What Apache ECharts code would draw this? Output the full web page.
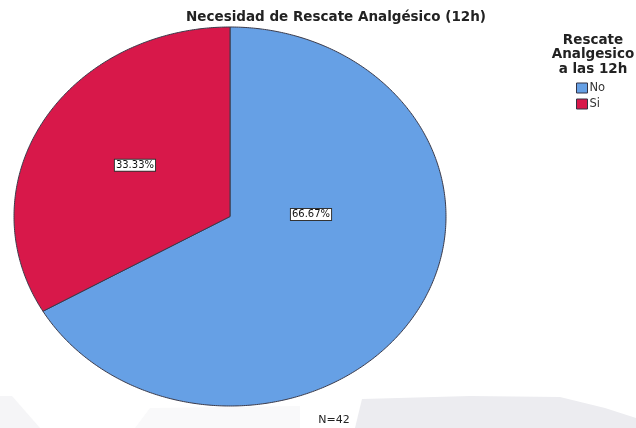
<!DOCTYPE html>
<html>
<head>
<meta charset="utf-8">
<script src="https://cdn.jsdelivr.net/npm/echarts@6/dist/echarts.min.js"></script>
<style>
  html, body { margin: 0; padding: 0; background: #ffffff; }
  #chart { width: 636px; height: 428px; }
</style>
</head>
<body>
<div id="chart"></div>
<script>
// Categories and counts (N = 42)
const categories = ['No', 'Si'];
const counts = [28, 14];
const sliceColors = ['#66a0e5', '#d8184a'];
const chartTitle = 'Necesidad de Rescate Analgésico (12h)';
const legendTitle = 'Rescate\nAnalgesico\na las 12h';

// Ellipse geometry of the pie (pixels)
const pieCx = 230, pieCy = 216.5, pieRx = 216, pieRy = 189.5;
// Where each percentage box sits, as a fraction of the radii from the centre
const labelSpots = [[0.375, -0.01], [-0.44, -0.27]];

const fontFace = '"DejaVu Sans", Verdana, sans-serif';

const total = counts.reduce((a, b) => a + b, 0);
const starts = [];
let acc = 0;
counts.forEach(v => { starts.push(acc); acc += v; });

const chart = echarts.init(document.getElementById('chart'), null, { renderer: 'canvas' });

function renderSlice(i, api) {
  const v = api.value(0);
  const a0 = -Math.PI / 2 + 2 * Math.PI * starts[i] / total;
  const a1 = a0 + 2 * Math.PI * v / total;
  const steps = Math.max(8, Math.ceil((a1 - a0) / 0.01));
  const pts = [[pieCx, pieCy]];
  for (let k = 0; k <= steps; k++) {
    const a = a0 + (a1 - a0) * k / steps;
    pts.push([pieCx + pieRx * Math.cos(a), pieCy + pieRy * Math.sin(a)]);
  }
  const pct = (100 * v / total).toFixed(2) + '%';
  const lx = pieCx + labelSpots[i][0] * pieRx;
  const ly = pieCy + labelSpots[i][1] * pieRy;
  return {
    type: 'group',
    children: [
      {
        type: 'polygon',
        shape: { points: pts },
        style: { fill: sliceColors[i], stroke: '#3a3a4a', lineWidth: 1 }
      },
      {
        type: 'text',
        z2: 10,
        style: {
          x: lx, y: ly,
          text: pct,
          align: 'center', verticalAlign: 'middle',
          font: '10px ' + fontFace,
          fill: '#111111',
          backgroundColor: '#ffffff',
          borderColor: '#333333',
          borderWidth: 1,
          padding: [1, 1, 0, 1]
        }
      }
    ]
  };
}

chart.setOption({
  animation: false,
  backgroundColor: '#ffffff',
  graphic: [
    // faint grey shading along the bottom of the canvas
    {
      type: 'polygon', z: -10, silent: true,
      shape: { points: [[362, 399], [470, 396], [560, 397], [605, 408], [636, 418], [636, 428], [355, 428]] },
      style: { fill: '#ececf0' }
    },
    {
      type: 'polygon', z: -10, silent: true,
      shape: { points: [[0, 396], [12, 396], [40, 428], [0, 428]] },
      style: { fill: '#f5f5f7' }
    },
    {
      type: 'polygon', z: -10, silent: true,
      shape: { points: [[150, 408], [300, 406], [300, 428], [135, 428]] },
      style: { fill: '#f9f9fa' }
    }
  ],
  title: [
    {
      text: chartTitle,
      left: 331, top: 5, textAlign: 'center',
      textStyle: { fontFamily: fontFace, fontSize: 13.5, fontWeight: 'bold', color: '#222222' }
    },
    {
      text: legendTitle,
      left: 588, top: 28, textAlign: 'center',
      textStyle: { fontFamily: fontFace, fontSize: 13.5, fontWeight: 'bold', color: '#222222', lineHeight: 14.5 }
    },
    {
      text: 'N=' + total,
      left: 329, top: 410, textAlign: 'center',
      textStyle: { fontFamily: fontFace, fontSize: 11, fontWeight: 'normal', color: '#222222' }
    }
  ],
  legend: {
    data: categories,
    orient: 'vertical',
    left: 571, top: 77,
    itemWidth: 11, itemHeight: 10, itemGap: 4,
    icon: 'rect',
    textStyle: { fontFamily: fontFace, fontSize: 11.5, color: '#333333', padding: [0, 0, 0, -3] },
    itemStyle: { borderColor: '#333344', borderWidth: 1 }
  },
  series: categories.map((name, i) => ({
    type: 'custom',
    name: name,
    coordinateSystem: 'none',
    color: sliceColors[i],
    renderItem: function (params, api) {
      return renderSlice(i, api);
    },
    data: [[counts[i]]]
  }))
});
</script>
</body>
</html>
